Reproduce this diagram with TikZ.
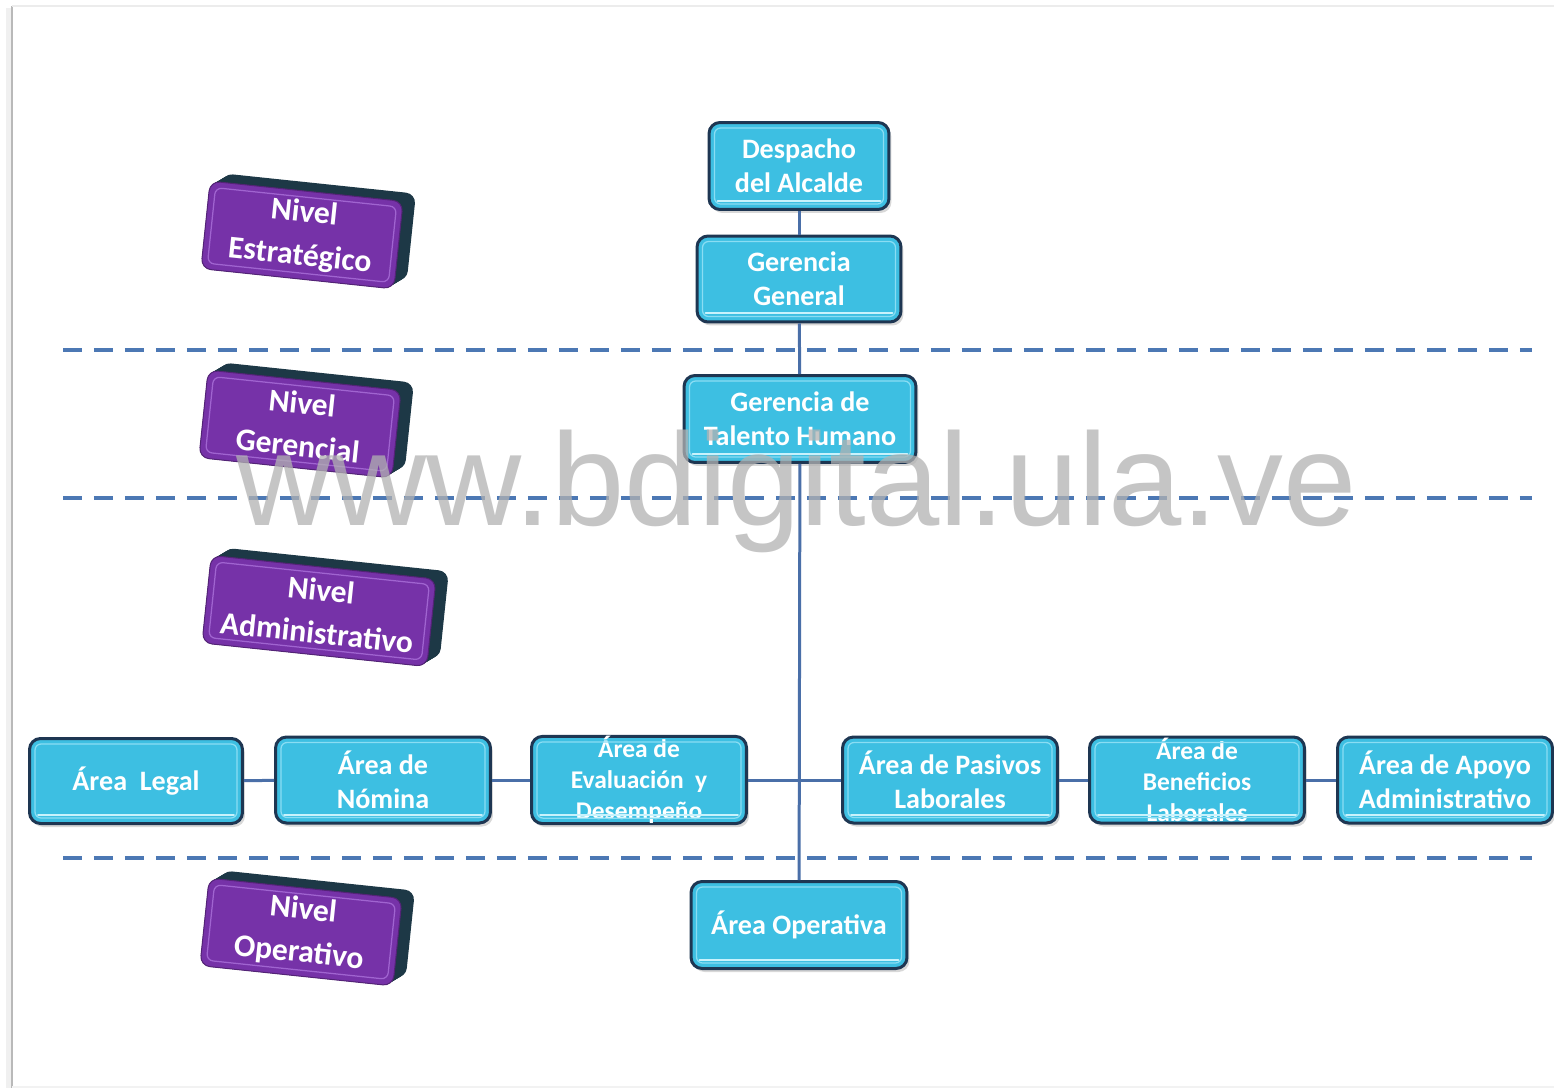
\documentclass[tikz,border=0pt]{standalone}
\usepackage{fontspec}
\setmainfont{Carlito}
\newfontfamily\wmfont{Liberation Sans}
\usetikzlibrary{shadows}

\definecolor{boxcyan}{HTML}{3DBFE2}
\definecolor{boxedge}{HTML}{1E3652}
\definecolor{boxinner}{HTML}{8ADDF3}
\definecolor{boxglow}{HTML}{C8F2FC}
\definecolor{linkblue}{HTML}{4A6FA8}
\definecolor{dashblue}{HTML}{4C78B4}
\definecolor{nivpurple}{HTML}{7632A8}
\definecolor{nivinner}{HTML}{A064D0}
\definecolor{nivside}{HTML}{1D3846}

\tikzset{
  unit/.style={draw=boxedge, line width=0.06cm, fill=boxcyan,
    rounded corners=0.22cm, text=white, align=center, inner sep=0pt,
    font=\bfseries\fontsize{16}{19.3}\selectfont,
    drop shadow={shadow xshift=0.05cm, shadow yshift=-0.07cm, opacity=0.3}},
  threeline/.style={font=\bfseries\fontsize{14.5}{17.6}\selectfont},
  nivel/.style={fill=nivpurple, draw=nivpurple!70!black, line width=0.02cm,
    rounded corners=0.2cm, text=white, align=center, inner sep=0pt,
    minimum height=1.76cm, font=\bfseries\fontsize{18}{24.5}\selectfont},
  link/.style={draw=linkblue, line width=0.06cm},
  levelline/.style={draw=dashblue, line width=0.08cm, dash pattern=on 0.38cm off 0.24cm},
  innerline/.style={draw=boxinner, line width=0.025cm, rounded corners=0.12cm},
  glowline/.style={draw=boxglow, line width=0.04cm, line cap=round},
}

% level label: name, x, y, width (px), text
\newcommand\nivelbox[5]{%
  \begin{scope}[shift={(#2,#3)}, rotate=-6]
    \foreach \t in {0,1,...,12}
      \fill[nivside, rounded corners=0.2cm] ({-#4/2+\t},{-44-0.75*\t}) rectangle ({#4/2+\t},{44-0.75*\t});
    \node[nivel, minimum width=#4*0.02cm, transform shape] (#1) at (0,0) {#5};
    \draw[nivinner, line width=0.025cm, rounded corners=0.13cm] ({-#4/2+6},-38) rectangle ({#4/2-6},38);
  \end{scope}}

\begin{document}
\begin{tikzpicture}[x=0.02cm, y=-0.02cm]
  \useasboundingbox (0,0) rectangle (1554,1088);
  \fill[white] (0,0) rectangle (1554,1088);

  % sheet edge
  \fill[gray!12] (6,8) rectangle (12,1088);
  \draw[gray!55, line width=0.05cm] (12,6) -- (12,1088);
  \draw[gray!15, line width=0.05cm] (12,6) -- (1554,6);
  \draw[gray!10, line width=0.04cm] (12,1087) -- (1554,1087);

  % level separators
  \draw[levelline] (63,350) -- (1532,350);
  \draw[levelline] (63,498) -- (1532,498);
  \draw[levelline] (63,858) -- (1532,858);

  % level labels
  \nivelbox{nest}{302}{235}{194}{Nivel\\Estratégico}
  \nivelbox{nger}{300}{424}{194}{Nivel\\Gerencial}
  \nivelbox{nadm}{319}{611}{226}{Nivel\\Administrativo}
  \nivelbox{nope}{301}{932}{194}{Nivel\\Operativo}

  % units
  \node[unit, minimum width=3.6cm,  minimum height=1.74cm] (desp)  at (799,166) {Despacho\\del Alcalde};
  \node[unit, minimum width=4.08cm, minimum height=1.72cm] (gg)    at (799,279) {Gerencia\\General};
  \node[unit, minimum width=4.64cm, minimum height=1.74cm] (gth)   at (800,419) {Gerencia de\\Talento Humano};
  \node[unit, minimum width=4.26cm, minimum height=1.7cm]  (legal) at (136,781) {Área~ Legal};
  \node[unit, minimum width=4.3cm,  minimum height=1.72cm] (nom)   at (383,780) {Área de\\Nómina};
  \node[unit, threeline, minimum width=4.3cm, minimum height=1.72cm] (eval) at (639,780) {Área de\\Evaluación~ y\\Desempeño};
  \node[unit, minimum width=4.3cm,  minimum height=1.72cm] (pas)   at (950,780) {Área de Pasivos\\Laborales};
  \node[unit, threeline, minimum width=4.3cm, minimum height=1.72cm] (ben) at (1197,780) {Área de\\Beneficios\\Laborales};
  \node[unit, minimum width=4.3cm,  minimum height=1.72cm] (apo)   at (1445,780) {Área de Apoyo\\Administrativo};
  \node[unit, minimum width=4.32cm, minimum height=1.74cm] (oper)  at (799,925) {Área Operativa};

  % inner bevel of each unit
  \foreach \n in {desp,gg,gth,legal,nom,eval,pas,ben,apo,oper} {
    \draw[innerline] ([xshift=0.14cm,yshift=-0.14cm]\n.north west) rectangle ([xshift=-0.14cm,yshift=0.14cm]\n.south east);
    \draw[glowline] ([xshift=0.2cm,yshift=0.2cm]\n.south west) -- ([xshift=-0.2cm,yshift=0.2cm]\n.south east);
  }

  % reporting lines
  \draw[link] (desp) -- (gg);
  \draw[link] (gg) -- (gth);
  \draw[link] (gth) -- (oper);
  \draw[link] (legal) -- (nom);
  \draw[link] (nom) -- (eval);
  \draw[link] (eval) -- (pas);
  \draw[link] (pas) -- (ben);
  \draw[link] (ben) -- (apo);

  % watermark
  \node[anchor=base, inner sep=0pt, text=gray!60, text opacity=0.75,
        font=\wmfont\fontsize{75}{75}\selectfont] (wm) at (797,525) {www.bdigital.ula.ve};
\end{tikzpicture}
\end{document}
